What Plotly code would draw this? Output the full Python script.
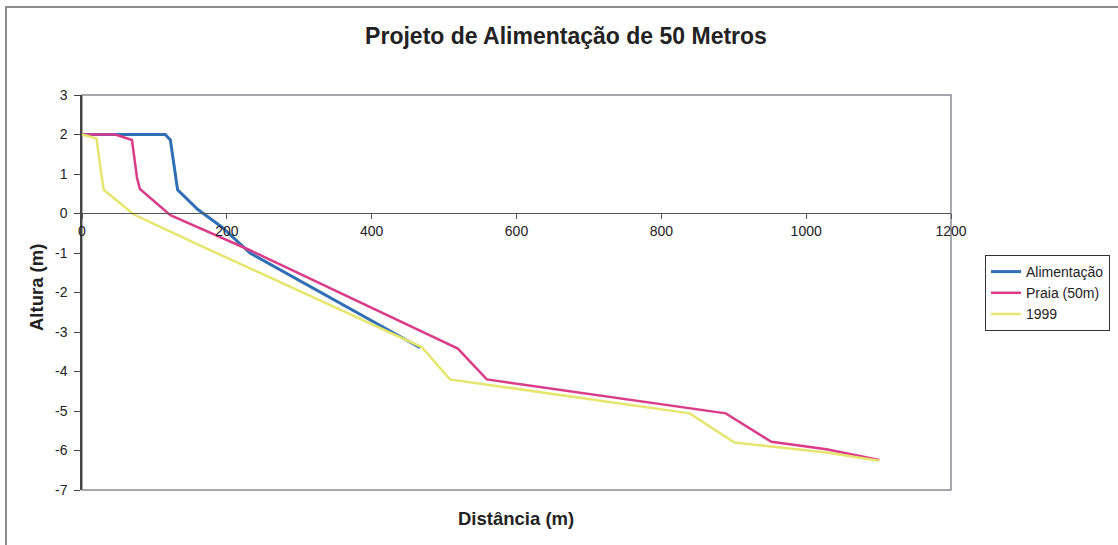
import plotly.graph_objects as go

# Beach profiles: distance offshore (m) vs. elevation (m)
alim_x = [0, 50, 115, 122, 125, 129, 132, 160, 193, 232, 350, 467]
alim_y = [2, 2, 2, 1.86, 1.5, 0.9, 0.6, 0.1, -0.34, -1.0, -2.2, -3.4]

praia_x = [0, 46, 69, 73, 76, 80, 122, 232, 519, 559, 889, 952, 1028, 1101]
praia_y = [2, 2, 1.86, 1.3, 0.9, 0.62, -0.04, -0.93, -3.42, -4.2, -5.06, -5.78, -5.97, -6.24]

y1999_x = [0, 20, 25, 30, 71, 150, 469, 508, 839, 901, 1028, 1101]
y1999_y = [2, 1.9, 1.2, 0.6, -0.02, -0.7, -3.38, -4.2, -5.06, -5.8, -6.05, -6.26]

series_names = ["Alimentação", "Praia (50m)", "1999"]
x_ticks = [0, 200, 400, 600, 800, 1000, 1200]
y_ticks = [3, 2, 1, 0, -1, -2, -3, -4, -5, -6, -7]

FONT = "Liberation Sans, Arial, sans-serif"

fig = go.Figure()
fig.add_trace(go.Scatter(x=alim_x, y=alim_y, mode="lines", name=series_names[0],
                         line=dict(color="#2f6fb3", width=3)))
fig.add_trace(go.Scatter(x=praia_x, y=praia_y, mode="lines", name=series_names[1],
                         line=dict(color="#d93d8a", width=2.5)))
fig.add_trace(go.Scatter(x=y1999_x, y=y1999_y, mode="lines", name=series_names[2],
                         line=dict(color="#e6e66e", width=2.5)))

L, R, T, B = 82, 167, 95, 55
W, H = 1118, 545
pw, ph = W - L - R, H - T - B

def px_x(p):
    return (p - L) / pw

def px_y(p):
    return (H - B - p) / ph

fig.update_layout(
    width=W, height=H,
    margin=dict(l=L, r=R, t=T, b=B, autoexpand=False),
    paper_bgcolor="white", plot_bgcolor="white",
    font=dict(family=FONT, size=14, color="#222"),
    title=dict(text="<b>Projeto de Alimentação de 50 Metros</b>",
               font=dict(family=FONT, size=23, color="#222"),
               x=566 / W, xref="container", xanchor="center",
               y=1 - 36 / H, yref="container", yanchor="middle"),
    showlegend=True,
    legend=dict(x=px_x(985), y=px_y(255), xanchor="left", yanchor="top",
                bgcolor="white", bordercolor="#333", borderwidth=1,
                font=dict(family=FONT, size=14, color="#222"),
                tracegroupgap=0, itemwidth=30),
    xaxis=dict(range=[0, 1200], tickvals=x_ticks, ticktext=[str(v) for v in x_ticks],
               showgrid=False, zeroline=False, showline=True, linecolor="#555",
               linewidth=1.2, ticks="outside", ticklen=5, tickcolor="#555",
               anchor="free", position=px_y(213.3),
               tickfont=dict(family=FONT, size=14, color="#222")),
    yaxis=dict(range=[-7, 3], tickvals=y_ticks, ticktext=[str(v) for v in y_ticks],
               showgrid=False, zeroline=False, showline=True, linecolor="#444",
               linewidth=1.5, ticks="outside", ticklen=6, tickcolor="#444",
               ticklabelstandoff=4,
               tickfont=dict(family=FONT, size=14, color="#222")),
    shapes=[
        # plot-area frame
        dict(type="rect", xref="paper", yref="paper", x0=0, x1=1, y0=0, y1=1,
             line=dict(color="#8a8a96", width=1.5), layer="below"),
        # outer chart frame
        dict(type="rect", xref="paper", yref="paper",
             x0=px_x(6), x1=px_x(1125), y0=px_y(552), y1=px_y(7),
             line=dict(color="#8c8c8c", width=2)),
    ],
    annotations=[
        dict(text="<b>Distância (m)</b>", xref="paper", yref="paper",
             x=px_x(516), y=px_y(518), xanchor="center", yanchor="middle",
             showarrow=False, font=dict(family=FONT, size=18.5, color="#222")),
        dict(text="<b>Altura (m)</b>", xref="paper", yref="paper",
             x=px_x(36), y=px_y(288), xanchor="center", yanchor="middle",
             textangle=-90, showarrow=False,
             font=dict(family=FONT, size=18.5, color="#222")),
    ],
)

fig.write_html("out.html")
